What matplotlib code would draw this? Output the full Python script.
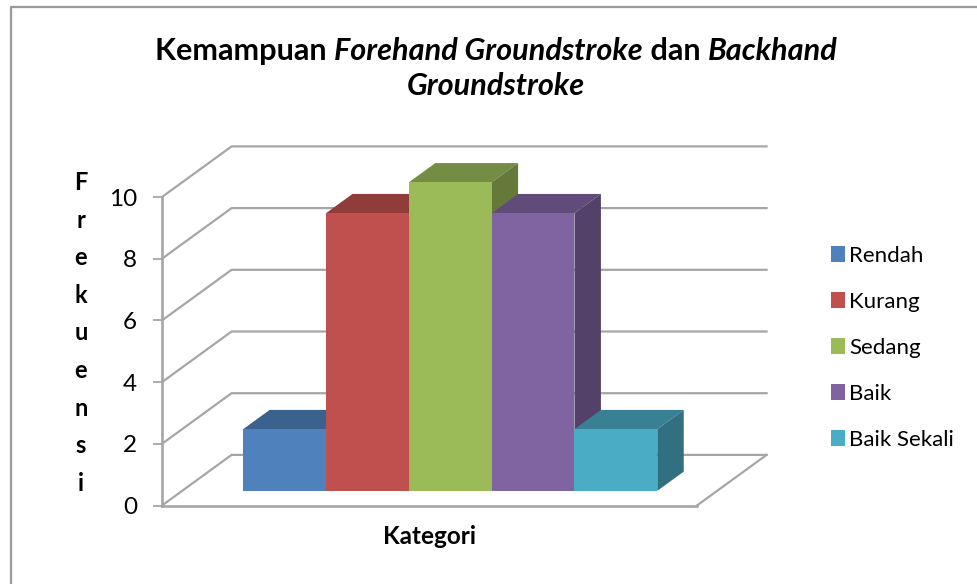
import matplotlib
matplotlib.use('agg')
import matplotlib.pyplot as plt
from matplotlib.colors import to_rgb
from matplotlib.lines import Line2D
from matplotlib.patches import Polygon

categories = ['Rendah', 'Kurang', 'Sedang', 'Baik', 'Baik Sekali']
values = [2, 9, 10, 9, 2]
colors = ['#4F81BD', '#C0504D', '#9BBB59', '#8064A2', '#4BACC6']
y_ticks = [0, 2, 4, 6, 8, 10]
y_label = 'Frekuensi'
x_label = 'Kategori'
title_line1 = [('Kemampuan ', 'normal'), ('Forehand Groundstroke', 'italic'),
               (' dan ', 'normal'), ('Backhand', 'italic')]
title_line2 = 'Groundstroke'

W, H = 977, 584
GREY = '#A6A6A6'

plt.rcParams['font.family'] = ['Lato', 'DejaVu Sans']

# depth of the fake 3d box, in data units
XMAX = 6.46
DX = 0.84
DY = 1.64
BAR_LEFT = 0.737
D_FRONT = 0.29
D_BACK = 0.67


def shade(c, f):
    return tuple(v * f for v in to_rgb(c))


def project(x, v, d):
    return (x + d * DX, v + d * DY)


fig = plt.figure(figsize=(W / 100, H / 100), dpi=100)
ax = fig.add_axes([162 / W, 1 - 505.5 / H, 535 / W, 308.5 / H])
ax.set_xlim(0, XMAX)
ax.set_ylim(0, 10)

# chart frame
fig.add_artist(Line2D([10.5 / W, 10.5 / W, 1], [0, 1 - 6.5 / H, 1 - 6.5 / H],
                      color='#9A9A9A', lw=1.6))

# walls
for v in y_ticks:
    ax.plot([0, DX, XMAX + DX], [v, v + DY, v + DY], color=GREY, lw=1.6,
            clip_on=False, zorder=1)
ax.plot([XMAX, XMAX + DX], [0, DY], color=GREY, lw=1.6, clip_on=False, zorder=1)

# bars, left to right so each one hides the side of the one before
for i, (val, col) in enumerate(zip(values, colors)):
    x0 = BAR_LEFT + i
    x1 = x0 + 1
    z = 2 + i
    top = [project(x0, val, D_FRONT), project(x1, val, D_FRONT),
           project(x1, val, D_BACK), project(x0, val, D_BACK)]
    side = [project(x1, 0, D_FRONT), project(x1, val, D_FRONT),
            project(x1, val, D_BACK), project(x1, 0, D_BACK)]
    front = [project(x0, 0, D_FRONT), project(x1, 0, D_FRONT),
             project(x1, val, D_FRONT), project(x0, val, D_FRONT)]
    ax.add_patch(Polygon(top, fc=shade(col, 0.75), ec='none', clip_on=False, zorder=z))
    ax.add_patch(Polygon(side, fc=shade(col, 0.65), ec='none', clip_on=False, zorder=z))
    ax.add_patch(Polygon(front, fc=col, ec='none', clip_on=False, zorder=z, label=categories[i]))

for s in ['top', 'right']:
    ax.spines[s].set_visible(False)
for s in ['left', 'bottom']:
    ax.spines[s].set_color(GREY)
    ax.spines[s].set_linewidth(1.9)
ax.set_xticks([])
ax.set_yticks(y_ticks)
ax.tick_params(axis='y', length=6.5, width=1.3, color=GREY, pad=11.5, labelsize=17.5)
ax.patch.set_visible(False)

ax.set_xlabel(x_label, fontsize=17.5, fontweight='bold', labelpad=14)
ax.set_ylabel('\n'.join(y_label), fontsize=17, fontweight='bold', rotation=0,
              linespacing=1.77, labelpad=0, va='center')
ax.yaxis.set_label_coords((81 - 162) / 535, (505.5 - 333) / 308.5)

ax.legend(loc='upper left', bbox_to_anchor=(831 / W, 1 - 246 / H),
          bbox_transform=fig.transFigure, frameon=False, fontsize=16,
          labelspacing=1.17, handlelength=0.63, handleheight=0.7,
          handletextpad=0.2, borderpad=0, borderaxespad=0)

# title, bold and bold italic pieces placed one after the other
renderer = fig.canvas.get_renderer()
x = 155
for txt, style in title_line1:
    t = fig.text(x / W, 1 - 60 / H, txt, fontsize=22.05, fontweight='bold',
                 fontstyle=style, va='baseline')
    x += t.get_window_extent(renderer).width
fig.text(496 / W, 1 - 95 / H, title_line2, fontsize=22.05, fontweight='bold',
         fontstyle='italic', ha='center', va='baseline')

fig.savefig('out.png', dpi=100)
